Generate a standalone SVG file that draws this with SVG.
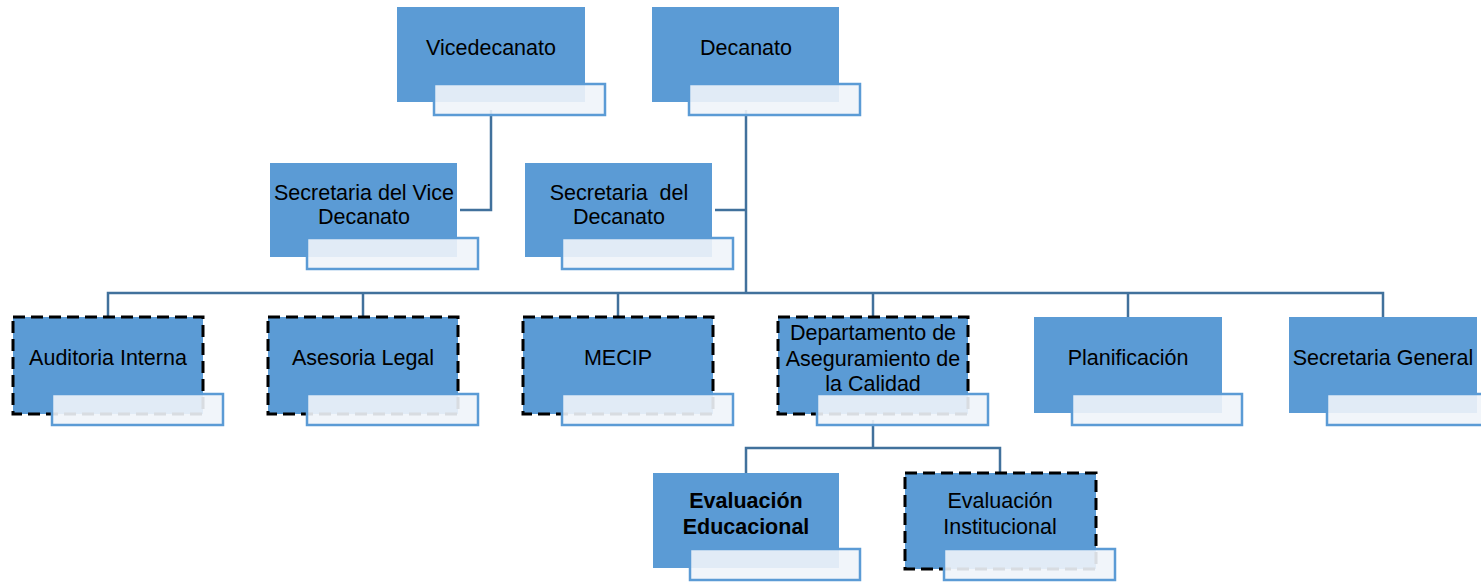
<svg xmlns="http://www.w3.org/2000/svg" width="1481" height="582" viewBox="0 0 1481 582">
<style>
.box{fill:#5B9BD5;}
.dash{fill:none;stroke:#000;stroke-width:3;stroke-dasharray:12 6;}
.ov{fill:#F0F4FA;fill-opacity:0.9;stroke:#5B9BD5;stroke-width:2.5;}
.t{font-family:"Liberation Sans",Arial,sans-serif;font-size:21.5px;fill:#000;text-anchor:middle;}
.b{font-weight:bold;}
.c{fill:none;stroke:#41719C;stroke-width:2.5;}
</style>
<rect width="1481" height="582" fill="#fff"/>
<g id="connectors">
<polyline class="c" points="491,110 491,210 460,210"/>
<polyline class="c" points="746,110 746,293"/>
<polyline class="c" points="746,210 715,210"/>
<polyline class="c" points="108,317 108,293 1383,293 1383,317"/>
<line class="c" x1="363" y1="293" x2="363" y2="317"/>
<line class="c" x1="618" y1="293" x2="618" y2="317"/>
<line class="c" x1="873" y1="293" x2="873" y2="317"/>
<line class="c" x1="1128" y1="293" x2="1128" y2="317"/>
<polyline class="c" points="873,420 873,448"/>
<polyline class="c" points="746,473 746,448 1000,448 1000,473"/>
</g>
<g id="vicedecanato">
<rect class="box" x="397" y="7" width="188" height="95"/>
<text class="t" x="491" y="55">Vicedecanato</text>
<rect class="ov" x="434" y="84" width="171" height="31"/>
</g>
<g id="decanato">
<rect class="box" x="652" y="7" width="187" height="95"/>
<text class="t" x="746" y="55">Decanato</text>
<rect class="ov" x="689" y="84" width="171" height="31"/>
</g>
<g id="secretaria-vice">
<rect class="box" x="270" y="163" width="187" height="94"/>
<text class="t" x="364" y="200">Secretaria del Vice</text>
<text class="t" x="364" y="224">Decanato</text>
<rect class="ov" x="307" y="238" width="171" height="31"/>
</g>
<g id="secretaria-decanato">
<rect class="box" x="525" y="163" width="187" height="94"/>
<text class="t" x="619" y="200" xml:space="preserve">Secretaria  del</text>
<text class="t" x="619" y="224">Decanato</text>
<rect class="ov" x="562" y="238" width="171" height="31"/>
</g>
<g id="auditoria">
<rect class="box" x="13" y="317" width="190" height="97"/>
<rect class="dash" x="13" y="317" width="190" height="97"/>
<text class="t" x="108" y="365">Auditoria Interna</text>
<rect class="ov" x="52" y="394" width="171" height="31"/>
</g>
<g id="asesoria">
<rect class="box" x="268" y="317" width="190" height="97"/>
<rect class="dash" x="268" y="317" width="190" height="97"/>
<text class="t" x="363" y="365">Asesoria Legal</text>
<rect class="ov" x="307" y="394" width="171" height="31"/>
</g>
<g id="mecip">
<rect class="box" x="523" y="317" width="190" height="97"/>
<rect class="dash" x="523" y="317" width="190" height="97"/>
<text class="t" x="618" y="365">MECIP</text>
<rect class="ov" x="562" y="394" width="171" height="31"/>
</g>
<g id="departamento">
<rect class="box" x="778" y="317" width="190" height="97"/>
<rect class="dash" x="778" y="317" width="190" height="97"/>
<text class="t" x="873" y="340">Departamento de</text>
<text class="t" x="873" y="366">Aseguramiento de</text>
<text class="t" x="873" y="391">la Calidad</text>
<rect class="ov" x="817" y="394" width="171" height="31"/>
</g>
<g id="planificacion">
<rect class="box" x="1034" y="317" width="188" height="96"/>
<text class="t" x="1128" y="365">Planificación</text>
<rect class="ov" x="1072" y="394" width="170" height="31"/>
</g>
<g id="secretaria-general">
<rect class="box" x="1289" y="317" width="188" height="96"/>
<text class="t" x="1383" y="365">Secretaria General</text>
<rect class="ov" x="1327" y="394" width="170" height="31"/>
</g>
<g id="evaluacion-educacional">
<rect class="box" x="653" y="473" width="186" height="95"/>
<text class="t b" x="746" y="508">Evaluación</text>
<text class="t b" x="746" y="534">Educacional</text>
<rect class="ov" x="690" y="549" width="170" height="31"/>
</g>
<g id="evaluacion-institucional">
<rect class="box" x="905" y="473" width="191" height="96"/>
<rect class="dash" x="905" y="473" width="191" height="96"/>
<text class="t" x="1000" y="508">Evaluación</text>
<text class="t" x="1000" y="534">Institucional</text>
<rect class="ov" x="944" y="549" width="171" height="31"/>
</g>
</svg>
